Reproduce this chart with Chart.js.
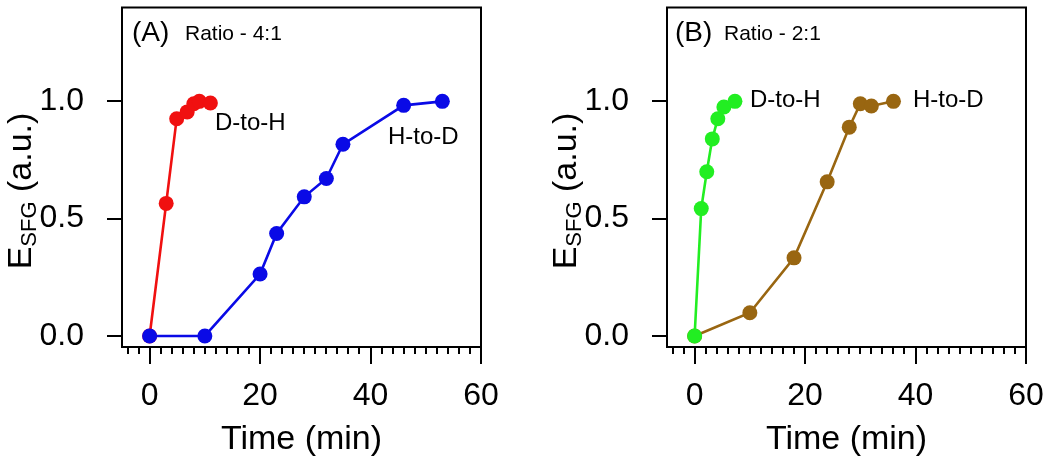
<!DOCTYPE html>
<html>
<head>
<meta charset="utf-8">
<script src="https://cdn.jsdelivr.net/npm/chart.js@4.4.1/dist/chart.umd.min.js"></script>
<style>
  html, body { margin: 0; padding: 0; background: #ffffff; }
  #wrap { position: relative; width: 1050px; height: 464px; overflow: hidden; }
  canvas { position: absolute; top: 0; }
</style>
</head>
<body>
<div id="wrap">
  <canvas id="cA" width="525" height="464" style="left:0px"></canvas>
  <canvas id="cB" width="525" height="464" style="left:525px"></canvas>
</div>
<script>
// ---- Data ----
const xTickValues = [0, 20, 40, 60];
const yTickValues = [0, 0.5, 1.0];

// Panel A: Ratio 4:1
const timeA_DtoH = [0, 3, 4.9, 6.8, 8, 9, 11];
const valA_DtoH  = [0, 0.565, 0.926, 0.955, 0.99, 1.0, 0.993];
const timeA_HtoD = [0, 10, 20, 23, 28, 32, 35, 46, 53];
const valA_HtoD  = [0, 0, 0.264, 0.437, 0.593, 0.671, 0.817, 0.983, 1.0];

// Panel B: Ratio 2:1
const timeB_DtoH = [0, 1.2, 2.2, 3.2, 4.2, 5.3, 7.3];
const valB_DtoH  = [0, 0.543, 0.70, 0.84, 0.926, 0.976, 1.0];
const timeB_HtoD = [0, 10, 18, 24, 28, 30, 32, 36];
const valB_HtoD  = [0, 0.099, 0.333, 0.657, 0.89, 0.99, 0.98, 1.0];

const FONT = "'Liberation Sans', Arial, sans-serif";

function pts(xs, ys) { return xs.map((x, i) => ({ x: x, y: ys[i] })); }

function ds(label, xs, ys, color, order) {
  return {
    label: label,
    data: pts(xs, ys),
    borderColor: color,
    backgroundColor: color,
    pointBackgroundColor: color,
    pointBorderColor: color,
    pointBorderWidth: 0,
    pointRadius: 7.5,
    borderWidth: 2.6,
    showLine: true,
    tension: 0,
    order: order
  };
}

function framePlugin(cfg) {
  return {
    id: 'frame' + cfg.id,
    afterDraw(chart) {
      const ctx = chart.ctx;
      const a = chart.chartArea;
      const xs = chart.scales.x, ys = chart.scales.y;
      ctx.save();
      ctx.strokeStyle = '#000';
      ctx.lineWidth = 2;
      ctx.strokeRect(a.left, a.top, a.right - a.left, a.bottom - a.top);
      // x ticks (major + minor)
      ctx.beginPath();
      for (let v = -4; v <= 60; v += 2) {
        const px = Math.round(xs.getPixelForValue(v));
        const len = (v % 20 === 0) ? 17 : 7;
        ctx.moveTo(px, a.bottom);
        ctx.lineTo(px, a.bottom + len);
      }
      // y ticks
      yTickValues.forEach(v => {
        const py = Math.round(ys.getPixelForValue(v));
        ctx.moveTo(a.left, py);
        ctx.lineTo(a.left - 15, py);
      });
      ctx.stroke();

      // y axis title with subscript
      ctx.fillStyle = '#000';
      ctx.save();
      ctx.translate(cfg.yTitleX, cfg.yTitleY);
      ctx.rotate(-Math.PI / 2);
      ctx.textBaseline = 'middle';
      ctx.textAlign = 'left';
      const big = '34px ' + FONT, small = '22px ' + FONT;
      ctx.font = big; const wE = ctx.measureText('E').width;
      ctx.font = small; const wS = ctx.measureText('SFG').width;
      ctx.font = big; const wR = ctx.measureText(' (a.u.)').width;
      let x0 = -(wE + wS + wR) / 2;
      ctx.font = big; ctx.fillText('E', x0, 0);
      ctx.font = small; ctx.fillText('SFG', x0 + wE, 8);
      ctx.font = big; ctx.fillText(' (a.u.)', x0 + wE + wS, 0);
      ctx.restore();

      // annotations
      ctx.textBaseline = 'middle';
      ctx.textAlign = 'left';
      ctx.font = '28px ' + FONT;
      ctx.fillText(cfg.panel, cfg.panelX, 33);
      ctx.font = '21px ' + FONT;
      ctx.fillText(cfg.ratio, cfg.ratioX, 34);
      ctx.font = '24px ' + FONT;
      cfg.labels.forEach(l => ctx.fillText(l.text, l.x, l.y));
      ctx.restore();
    }
  };
}

function makeChart(canvasId, datasets, cfg) {
  return new Chart(document.getElementById(canvasId), {
    type: 'scatter',
    data: { datasets: datasets },
    options: {
      responsive: false,
      animation: false,
      devicePixelRatio: 1,
      layout: { padding: { left: 0, right: cfg.padRight, top: 7, bottom: 0 } },
      plugins: { legend: { display: false }, tooltip: { enabled: false } },
      scales: {
        x: {
          type: 'linear',
          min: -5, max: 60,
          afterBuildTicks: s => { s.ticks = xTickValues.map(v => ({ value: v })); },
          afterFit: s => { s.height = 117; s.paddingLeft = 0; s.paddingRight = 0; },
          grid: { display: false },
          border: { display: false },
          ticks: { color: '#000', font: { size: 32, family: FONT }, padding: 22, maxRotation: 0, autoSkip: false },
          title: { display: true, text: 'Time (min)', color: '#000', font: { size: 34, family: FONT }, padding: { top: 0, bottom: 4 } }
        },
        y: {
          type: 'linear',
          min: -0.047, max: 1.4,
          afterBuildTicks: s => { s.ticks = yTickValues.map(v => ({ value: v })); },
          afterFit: s => { s.width = cfg.left; s.paddingTop = 0; s.paddingBottom = 0; },
          grid: { display: false },
          border: { display: false },
          ticks: { color: '#000', font: { size: 32, family: FONT }, padding: 30, callback: v => Number(v).toFixed(1) }
        }
      }
    },
    plugins: [framePlugin(cfg)]
  });
}

makeChart('cA', [
  ds('H-to-D', timeA_HtoD, valA_HtoD, '#0a0ae6', 1),
  ds('D-to-H', timeA_DtoH, valA_DtoH, '#f01010', 2)
], {
  id: 'A', left: 122, padRight: 44, yTitleX: 22, yTitleY: 191,
  panel: '(A)', panelX: 132, ratio: 'Ratio - 4:1', ratioX: 185,
  labels: [{ text: 'D-to-H', x: 215, y: 123 }, { text: 'H-to-D', x: 388, y: 137 }]
});

makeChart('cB', [
  ds('D-to-H', timeB_DtoH, valB_DtoH, '#22ee22', 1),
  ds('H-to-D', timeB_HtoD, valB_HtoD, '#996611', 2)
], {
  id: 'B', left: 142, padRight: 24, yTitleX: 42, yTitleY: 191,
  panel: '(B)', panelX: 150, ratio: 'Ratio - 2:1', ratioX: 199,
  labels: [{ text: 'D-to-H', x: 225, y: 100 }, { text: 'H-to-D', x: 388, y: 100 }]
});
</script>
</body>
</html>
